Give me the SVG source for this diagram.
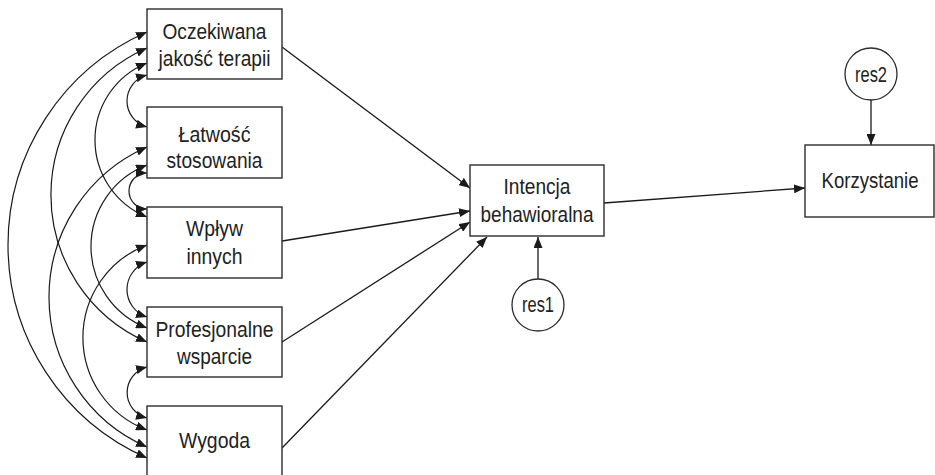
<svg xmlns="http://www.w3.org/2000/svg" width="935" height="475" viewBox="0 0 935 475">
<defs>
<style>
.box{fill:#fff;stroke:#2b2b2b;stroke-width:1.4}
.circ{fill:#fff;stroke:#2b2b2b;stroke-width:1.3}
.lbl{font-family:"Liberation Sans",Arial,Helvetica,sans-serif;font-size:22px;fill:#222;text-anchor:middle}
.cov{fill:none;stroke:#1a1a1a;stroke-width:1.2;marker-start:url(#ah);marker-end:url(#ah)}
.arr{fill:none;stroke:#1a1a1a;stroke-width:1.3;marker-end:url(#ah)}
</style>
<marker id="ah" viewBox="0 0 11 9" refX="11" refY="4.5" markerWidth="11" markerHeight="9" markerUnits="userSpaceOnUse" orient="auto-start-reverse">
<path d="M0,0 L11,4.5 L0,9 z" fill="#1a1a1a"/>
</marker>
</defs>
<rect width="935" height="475" fill="#fff"/>

<g id="connectors">
<!-- covariances -->
<path class="cov" d="M147,75 A26.9,26.9 0 0 0 147,127"/>
<path class="cov" d="M147,173 A18,18 0 0 0 147,209"/>
<path class="cov" d="M147,262 A28.9,28.9 0 0 0 147,317"/>
<path class="cov" d="M147,367 A26.3,26.3 0 0 0 147,418"/>
<path class="cov" d="M147,63 A83,83 0 0 0 147,217"/>
<path class="cov" d="M147,165 A87.3,87.3 0 0 0 147,328"/>
<path class="cov" d="M147,245 A98.8,98.8 0 0 0 147,430"/>
<path class="cov" d="M147,48 A160.5,160.5 0 0 0 147,342"/>
<path class="cov" d="M147,147 A163.8,163.8 0 0 0 147,447"/>
<path class="cov" d="M147,32 A232.7,232.7 0 0 0 147,458"/>
<!-- regressions -->
<path class="arr" d="M282,47 L470,188"/>
<path class="arr" d="M282,241 L470,211"/>
<path class="arr" d="M282,342 L470,222"/>
<path class="arr" d="M282,448 L487,237"/>
<path class="arr" d="M604,203 L805,188"/>
<path class="arr" d="M538,279 L538,237"/>
<path class="arr" d="M871,100 L871,145"/>
</g>

<g id="n1">
<rect class="box" x="147" y="9" width="135" height="70"/>
<text class="lbl" x="214.5" y="38.5" textLength="104" lengthAdjust="spacingAndGlyphs">Oczekiwana</text>
<text class="lbl" x="214.5" y="66" textLength="112" lengthAdjust="spacingAndGlyphs">jakość terapii</text>
</g>
<g id="n2">
<rect class="box" x="147" y="107" width="135" height="71"/>
<text class="lbl" x="214.5" y="141.5" textLength="72" lengthAdjust="spacingAndGlyphs">Łatwość</text>
<text class="lbl" x="214.5" y="168" textLength="96" lengthAdjust="spacingAndGlyphs">stosowania</text>
</g>
<g id="n3">
<rect class="box" x="147" y="207" width="135" height="71"/>
<text class="lbl" x="214.5" y="236" textLength="57" lengthAdjust="spacingAndGlyphs">Wpływ</text>
<text class="lbl" x="214.5" y="263.5" textLength="56" lengthAdjust="spacingAndGlyphs">innych</text>
</g>
<g id="n4">
<rect class="box" x="147" y="307" width="135" height="70"/>
<text class="lbl" x="214.5" y="336.5" textLength="118" lengthAdjust="spacingAndGlyphs">Profesjonalne</text>
<text class="lbl" x="214.5" y="363.5" textLength="75" lengthAdjust="spacingAndGlyphs">wsparcie</text>
</g>
<g id="n5">
<rect class="box" x="147" y="406" width="135" height="76"/>
<text class="lbl" x="214.5" y="448" textLength="71" lengthAdjust="spacingAndGlyphs">Wygoda</text>
</g>
<g id="n6">
<rect class="box" x="470" y="165" width="134" height="71"/>
<text class="lbl" x="537" y="193.5" textLength="67" lengthAdjust="spacingAndGlyphs">Intencja</text>
<text class="lbl" x="537" y="221.5" textLength="113" lengthAdjust="spacingAndGlyphs">behawioralna</text>
</g>
<g id="n7">
<rect class="box" x="805" y="145" width="129" height="72"/>
<text class="lbl" x="870" y="188" textLength="97" lengthAdjust="spacingAndGlyphs">Korzystanie</text>
</g>
<g id="res1">
<circle class="circ" cx="538" cy="305" r="26"/>
<text class="lbl" x="538" y="312" textLength="32" lengthAdjust="spacingAndGlyphs">res1</text>
</g>
<g id="res2">
<circle class="circ" cx="871" cy="74" r="26"/>
<text class="lbl" x="871" y="81.5" textLength="32" lengthAdjust="spacingAndGlyphs">res2</text>
</g>
</svg>
